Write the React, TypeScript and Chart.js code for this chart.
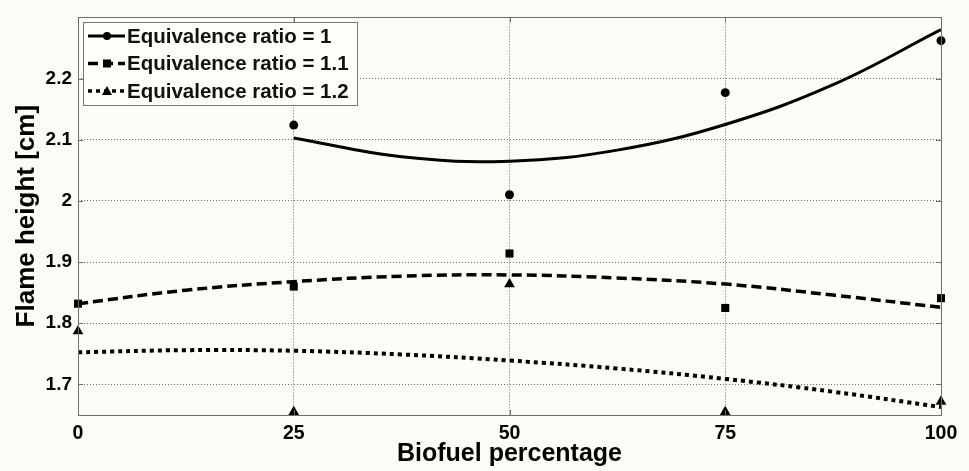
import React, { useEffect, useRef } from "react";
import { Chart, registerables } from "chart.js";

Chart.register(...registerables);

// ---- data ----
const xTickValues = [0, 25, 50, 75, 100];
const yTickValues = [1.7, 1.8, 1.9, 2.0, 2.1, 2.2];

const seriesLabels = [
  "Equivalence ratio = 1",
  "Equivalence ratio = 1.1",
  "Equivalence ratio = 1.2",
];

// measured points (markers)
const measX1 = [25, 50, 75, 100];
const measY1 = [2.124, 2.01, 2.177, 2.262];
const measX2 = [0, 25, 50, 75, 100];
const measY2 = [1.832, 1.86, 1.914, 1.825, 1.841];
const measX3 = [0, 25, 50, 75, 100];
const measY3 = [1.787, 1.655, 1.864, 1.655, 1.672];

// fitted curves
const fitX1 = [25, 37.5, 50, 62.5, 75, 87.5, 100];
const fitY1 = [2.103, 2.072, 2.065, 2.083, 2.125, 2.19, 2.28];
const fitX2 = [0, 12.5, 25, 37.5, 50, 62.5, 75, 87.5, 100];
const fitY2 = [1.832, 1.854, 1.868, 1.877, 1.879, 1.874, 1.864, 1.846, 1.826];
const fitX3 = [0, 12.5, 25, 37.5, 50, 62.5, 75, 87.5, 100];
const fitY3 = [1.7525, 1.756, 1.755, 1.749, 1.739, 1.726, 1.709, 1.688, 1.663];

// ---- styling ----
const BG = "#fcfcf6";
const FONT = "'Liberation Sans', Arial, Helvetica, sans-serif";
const FRAME = "#6e6e6e";
const GRID = "#6a6a6a";

const pts = (xs: number[], ys: number[]) => xs.map((x, i) => ({ x, y: ys[i] }));

const dashes = [[], [10, 5], [4, 4]];
const widths = [3, 3.5, 4];
const markerStyles = ["circle", "rect", "triangle"];
const markerRadius = [4.5, 5.7, 6.2];

function drawMarker(ctx: CanvasRenderingContext2D, style: string, x: number, y: number) {
  ctx.beginPath();
  if (style === "circle") {
    ctx.arc(x, y, 4, 0, Math.PI * 2);
  } else if (style === "rect") {
    ctx.rect(x - 4, y - 4, 8, 8);
  } else {
    ctx.moveTo(x, y - 5);
    ctx.lineTo(x + 5, y + 4);
    ctx.lineTo(x - 5, y + 4);
    ctx.closePath();
  }
  ctx.fill();
}

const framePlugin = {
  id: "matlabFrame",
  beforeDraw(chart: any) {
    const { ctx, width, height } = chart;
    ctx.save();
    ctx.fillStyle = BG;
    ctx.fillRect(0, 0, width, height);
    ctx.restore();
  },
  afterDraw(chart: any) {
    const { ctx, chartArea } = chart;
    const { left, right, top, bottom } = chartArea;
    const xs = chart.scales.x;
    const ys = chart.scales.y;
    ctx.save();
    ctx.setLineDash([]);
    ctx.strokeStyle = FRAME;
    ctx.lineWidth = 1;
    ctx.strokeRect(Math.round(left) + 0.5, Math.round(top) + 0.5, Math.round(right - left), Math.round(bottom - top));
    // inward tick marks
    const tl = 5;
    ctx.beginPath();
    xTickValues.forEach((v) => {
      const px = Math.round(xs.getPixelForValue(v)) + 0.5;
      ctx.moveTo(px, bottom);
      ctx.lineTo(px, bottom - tl);
      ctx.moveTo(px, top);
      ctx.lineTo(px, top + tl);
    });
    yTickValues.forEach((v) => {
      const py = Math.round(ys.getPixelForValue(v)) + 0.5;
      ctx.moveTo(left, py);
      ctx.lineTo(left + tl, py);
      ctx.moveTo(right, py);
      ctx.lineTo(right - tl, py);
    });
    ctx.stroke();

    // legend box
    const lx = Math.round(left) + 5;
    const ly = Math.round(top) + 5;
    const lw = 274;
    const lh = 83;
    ctx.fillStyle = "#fdfdfa";
    ctx.fillRect(lx, ly, lw, lh);
    ctx.strokeStyle = "#777777";
    ctx.strokeRect(lx + 0.5, ly + 0.5, lw, lh);
    ctx.font = `bold 20.5px ${FONT}`;
    ctx.textBaseline = "middle";
    ctx.textAlign = "left";
    seriesLabels.forEach((label, i) => {
      const cy = ly + 14 + i * 27.5;
      ctx.strokeStyle = "#000";
      ctx.lineWidth = i === 0 ? 3 : 3.5;
      ctx.setLineDash(dashes[i]);
      ctx.beginPath();
      ctx.moveTo(lx + 5, cy);
      ctx.lineTo(lx + 42, cy);
      ctx.stroke();
      ctx.setLineDash([]);
      ctx.fillStyle = "#000";
      drawMarker(ctx, markerStyles[i], lx + 24, cy);
      ctx.fillStyle = "#111";
      ctx.fillText(label, lx + 44, cy + 1);
    });
    ctx.restore();
  },
};

export default function App() {
  const ref = useRef<HTMLCanvasElement>(null);

  useEffect(() => {
    document.body.style.margin = "0";
    const fits = [pts(fitX1, fitY1), pts(fitX2, fitY2), pts(fitX3, fitY3)];
    const meas = [pts(measX1, measY1), pts(measX2, measY2), pts(measX3, measY3)];

    const markerSets = meas.map((d, i) => ({
      type: "scatter" as const,
      label: seriesLabels[i] + " (data)",
      data: d,
      showLine: false,
      pointStyle: markerStyles[i],
      pointRadius: markerRadius[i],
      pointBackgroundColor: "#000",
      pointBorderColor: "#000",
      pointBorderWidth: 0,
      clip: false as any,
    }));
    const lineSets = fits.map((d, i) => ({
      type: "line" as const,
      label: seriesLabels[i],
      data: d,
      showLine: true,
      borderColor: "#000",
      borderWidth: widths[i],
      borderDash: dashes[i],
      borderCapStyle: "butt" as const,
      pointRadius: 0,
      tension: 0.4,
      fill: false,
    }));

    const chart = new Chart(ref.current!, {
      type: "scatter",
      data: { datasets: [...markerSets, ...lineSets] as any },
      plugins: [framePlugin],
      options: {
        responsive: false,
        animation: false,
        layout: { padding: { left: 0, right: 28, top: 15, bottom: 0 } },
        plugins: { legend: { display: false }, tooltip: { enabled: false } },
        scales: {
          x: {
            type: "linear",
            min: 0,
            max: 100,
            afterBuildTicks: (s: any) => {
              s.ticks = xTickValues.map((value) => ({ value }));
            },
            afterFit: (s: any) => {
              s.height = 56;
            },
            ticks: {
              padding: 7,
              color: "#000",
              font: { family: FONT, size: 19.5, weight: "bold" },
              callback: (v: any) => String(v),
            },
            grid: { color: GRID, lineWidth: 1, drawTicks: false },
            border: { display: false, dash: [1, 2] },
            title: {
              display: true,
              text: "Biofuel percentage",
              color: "#000",
              font: { family: FONT, size: 25, weight: "bold" },
              padding: { top: 0, bottom: 2 },
            },
          },
          y: {
            type: "linear",
            min: 1.65,
            max: 2.3,
            afterBuildTicks: (s: any) => {
              s.ticks = yTickValues.map((value) => ({ value }));
            },
            afterFit: (s: any) => {
              s.width = 78;
            },
            ticks: {
              padding: 6,
              color: "#000",
              font: { family: FONT, size: 19, weight: "bold" },
              callback: (v: any) => String(Math.round(Number(v) * 10) / 10),
            },
            grid: { color: GRID, lineWidth: 1, drawTicks: false },
            border: { display: false, dash: [1, 2] },
            title: {
              display: true,
              text: "Flame height [cm]",
              color: "#000",
              font: { family: FONT, size: 26, weight: "bold" },
              padding: { top: 11, bottom: 0 },
            },
          },
        },
      } as any,
    });
    return () => chart.destroy();
  }, []);

  return (
    <div style={{ width: 969, height: 471 }}>
      <canvas ref={ref} width={969} height={471} style={{ display: "block" }} />
    </div>
  );
}
